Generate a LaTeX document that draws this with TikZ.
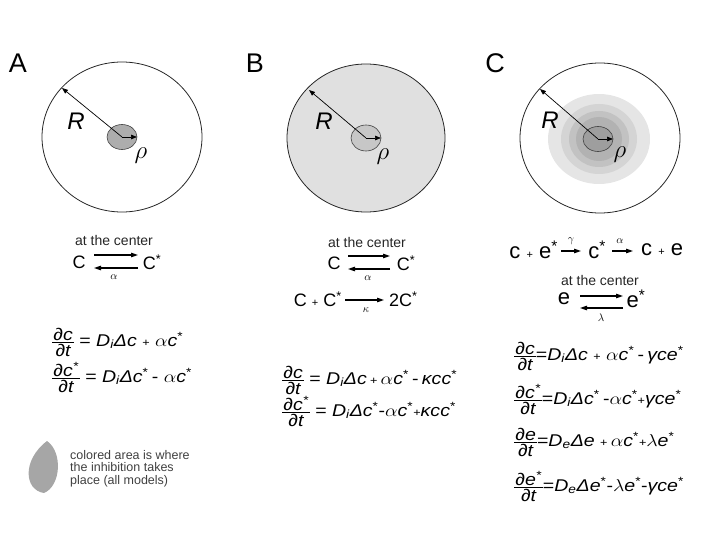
\documentclass[tikz,border=0pt]{standalone}
\usepackage{fontspec}
\setmainfont{Liberation Sans}
\usetikzlibrary{arrows.meta}
\newcommand\dd[2]{$\vcenter{\offinterlineskip\halign{\hfil\kern1pt##\kern1pt\hfil\cr
  \vrule height 0.76em depth 0.02em width 0pt\itshape #1\cr
  \noalign{\kern1.2pt\hrule height 0.7pt\kern1.2pt}
  \vrule height 0.74em depth 0.04em width 0pt\itshape #2\cr}}$}
\newcommand\iv[1]{\textit{#1}}
\newcommand\st{\textsuperscript{*}}
\newcommand\sml[1]{{\fontsize{11}{11}\selectfont #1}}
\newcommand\wide[1]{\scalebox{1.15}[1]{#1}}
\begin{document}
\begin{tikzpicture}[x=1pt,y=-1pt,
  lbl/.style={font=\fontsize{27}{29}\selectfont, inner sep=0},
  outer/.style={draw=black!85, line width=0.8pt},
  inner/.style={draw=black!75, line width=0.6pt},
  rad/.style={-{Triangle[length=6pt,width=4.5pt]}, line width=0.7pt},
  rx/.style={-{Triangle[length=7pt,width=4.5pt]}, line width=1.1pt},
  bigR/.style={font=\fontsize{24}{26}\selectfont\itshape, inner sep=0},
  rho/.style={font=\fontsize{26}{28}\selectfont, inner sep=0},
  ctr/.style={font=\fontsize{14}{16}\selectfont, text=black!85, inner sep=0},
  sp/.style={font=\fontsize{18}{20}\selectfont, inner sep=0},
  spc/.style={font=\fontsize{22}{24}\selectfont, inner sep=0},
  kk/.style={font=\fontsize{11}{12}\selectfont, inner sep=0},
  eqn/.style={font=\fontsize{17}{20}\selectfont, inner sep=0, anchor=west},
  leg/.style={font=\fontsize{12.5}{12.7}\selectfont, text=black!75, inner sep=0, anchor=north west, align=left}
]
\useasboundingbox (0,0) rectangle (720,540);

% ---------- Panel A ----------
\node[lbl] (labA) at (18,63) {A};
\coordinate (cA) at (122,137);
\draw[outer] (cA) ellipse [x radius=80, y radius=75];
\draw[inner, fill=black!32] (cA) ellipse [x radius=15, y radius=12.5];
\coordinate (rA) at (62,88);
\coordinate (pA) at (137,137);
\draw[rad] (cA) -- (rA);
\draw[rad] (cA) -- (pA);
\node[bigR] (RA) at (76,121) {R};
\node[rho] (rhoA) at (141,156) {$\rho$};

\node[ctr] (ctA) at (114,240) {at the center};
\node[sp] (cA1) at (79,262) {C};
\node[sp] (cA2) at (152,262) {C\st};
\coordinate (a1s) at (94,255); \coordinate (a1e) at (138,255);
\coordinate (a2s) at (138,268); \coordinate (a2e) at (94,268);
\draw[rx] (a1s) -- (a1e);
\draw[rx] (a2s) -- (a2e);
\node[kk] (alA) at (114,277) {$\alpha$};

\node[eqn] (eA1) at (52,342) {\wide{\dd{∂c}{∂t} = \iv{D}\textsubscript{\itshape i}\iv{Δc} \sml{+} $\alpha$\iv{c}\st}};
\node[eqn] (eA2) at (52,378) {\wide{\dd{∂c\st}{∂t} = \iv{D}\textsubscript{\itshape i}\iv{Δc}\st\,- $\alpha$\iv{c}\st}};

% legend
\fill[black!35] (47,441) .. controls (63,452) and (61,486) .. (44,493)
  .. controls (24,490) and (22,460) .. cycle;
\node[leg] (legt) at (70,450) {colored area is where\\the inhibition takes\\place (all models)};

% ---------- Panel B ----------
\node[lbl] (labB) at (255,63) {B};
\coordinate (cB) at (366,138);
\draw[outer, fill=black!12] (cB) ellipse [x radius=79, y radius=74];
\draw[inner, fill=black!22] (cB) ellipse [x radius=15, y radius=13];
\coordinate (rB) at (309,90);
\coordinate (pB) at (381,138);
\draw[rad] (cB) -- (rB);
\draw[rad] (cB) -- (pB);
\node[bigR] (RB) at (324,121) {R};
\node[rho] (rhoB) at (383,157) {$\rho$};

\node[ctr] (ctB) at (367,242) {at the center};
\node[sp] (cB1) at (334,263) {C};
\node[sp] (cB2) at (406,263) {C\st};
\coordinate (b1s) at (348,256); \coordinate (b1e) at (390,256);
\coordinate (b2s) at (390,269); \coordinate (b2e) at (348,269);
\draw[rx] (b1s) -- (b1e);
\draw[rx] (b2s) -- (b2e);
\node[kk] (alB) at (368,278) {$\alpha$};

\node[sp, anchor=east] (cB3) at (342,299) {C \sml{+} C\st};
\node[sp, anchor=west] (cB4) at (389,299) {2C\st};
\coordinate (b3s) at (345,300); \coordinate (b3e) at (384,300);
\draw[rx] (b3s) -- (b3e);
\node[kk] (kaB) at (366,310) {$\kappa$};

\node[eqn] (eB1) at (282,380) {\wide{\dd{∂c}{∂t} = \iv{D}\textsubscript{\itshape i}\iv{Δc}\,\sml{+}\,$\alpha$\iv{c}\st\,-\,\iv{κcc}\st}};
\node[eqn] (eB2) at (282,412) {\wide{\dd{∂c\st}{∂t} = \iv{D}\textsubscript{\itshape i}\iv{Δc}\st-$\alpha$\iv{c}\st\sml{+}\iv{κcc}\st}};

% ---------- Panel C ----------
\node[lbl] (labC) at (495,63) {C};
\coordinate (cC) at (600,138);
\draw[outer] (cC) ellipse [x radius=80, y radius=75];
\fill[black!10] (599,139) ellipse [x radius=51, y radius=45];
\fill[black!17] (599,139) ellipse [x radius=38, y radius=35];
\fill[black!24] (599,139) ellipse [x radius=30, y radius=28];
\fill[black!30] (599,139) ellipse [x radius=23, y radius=22];
\coordinate (cCs) at (598,139);
\draw[inner, fill=black!38] (cCs) ellipse [x radius=15, y radius=12.5];
\coordinate (rC) at (540,89);
\coordinate (pC) at (613,139);
\draw[rad] (cCs) -- (rC);
\draw[rad] (cCs) -- (pC);
\node[bigR] (RC) at (550,120) {R};
\node[rho] (rhoC) at (620,155) {$\rho$};

\node[spc, anchor=east] (rc1) at (558,250) {c \sml{+} e\st};
\node[spc] (rc2) at (597,250) {c\st};
\node[spc, anchor=west] (rc3) at (641,250) {c \sml{+} e};
\coordinate (g1s) at (561,251); \coordinate (g1e) at (581,251);
\coordinate (g2s) at (612,251); \coordinate (g2e) at (633,251);
\draw[rx] (g1s) -- (g1e);
\draw[rx] (g2s) -- (g2e);
\node[kk] (gaC) at (571,241) {$\gamma$};
\node[kk] (alC) at (620,241) {$\alpha$};

\node[ctr] (ctC) at (600,280) {at the center};
\node[spc] (ec1) at (564,299) {e};
\node[spc] (ec2) at (636,299) {e\st};
\coordinate (e1s) at (580,296); \coordinate (e1e) at (623,296);
\coordinate (e2s) at (623,308); \coordinate (e2e) at (580,308);
\draw[rx] (e1s) -- (e1e);
\draw[rx] (e2s) -- (e2e);
\node[kk] (laC) at (601,318) {$\lambda$};

\node[eqn] (eC1) at (514,356) {\wide{\dd{∂c}{∂t}=\iv{D}\textsubscript{\itshape i}\iv{Δc} \sml{+} $\alpha$\iv{c}\st\,-\,\iv{γce}\st}};
\node[eqn] (eC2) at (514,400) {\wide{\dd{∂c\st}{∂t}=\iv{D}\textsubscript{\itshape i}\iv{Δc}\st\,-$\alpha$\iv{c}\st\sml{+}\iv{γce}\st}};
\node[eqn] (eC3) at (514,442) {\wide{\dd{∂e}{∂t}=\iv{D}\textsubscript{\itshape e}\iv{Δe} \sml{+}\,$\alpha$\iv{c}\st\sml{+}$\lambda$\iv{e}\st}};
\node[eqn] (eC4) at (514,487) {\wide{\dd{∂e\st}{∂t}=\iv{D}\textsubscript{\itshape e}\iv{Δe}\st-$\lambda$\iv{e}\st-\iv{γce}\st}};
\end{tikzpicture}
\end{document}
